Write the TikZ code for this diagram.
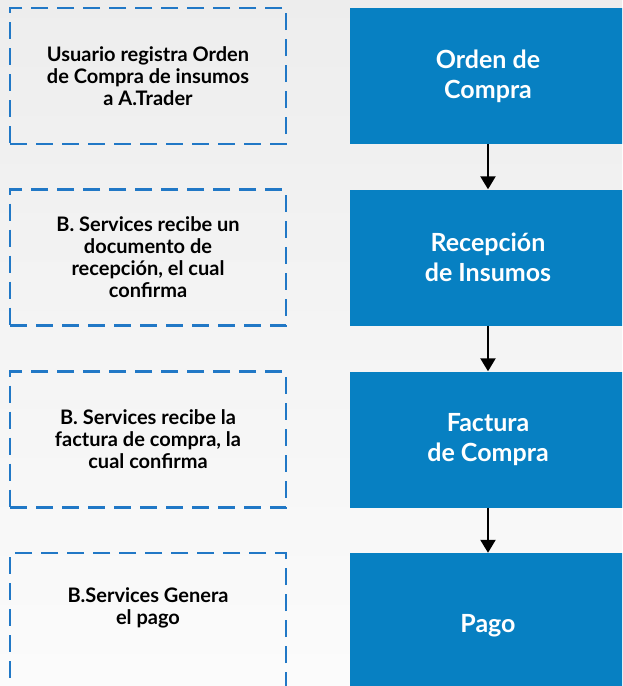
\documentclass[tikz,border=0pt]{standalone}
\usepackage{fontspec}
\setmainfont{Lato}
\usetikzlibrary{arrows.meta}

\definecolor{flowblue}{HTML}{0780C2}
\definecolor{dashblue}{HTML}{2178C6}

\tikzset{
  note/.style={draw=dashblue, line width=2.8pt, dash pattern=on 17pt off 9pt,
    minimum width=276pt, minimum height=136pt, align=center,
    font=\fontsize{20}{22}\selectfont\bfseries},
  stage/.style={fill=flowblue, minimum width=276pt, minimum height=136pt,
    align=center, text=white, font=\fontsize{25}{30}\selectfont\bfseries},
  flow/.style={-{Triangle[width=15pt,length=13pt]}, line width=2.2pt}
}

\begin{document}
\begin{tikzpicture}[x=1pt,y=-1pt]

\useasboundingbox (0,0) rectangle (622,686);
\clip (0,0) rectangle (622,686);
\shade[top color=gray!14, bottom color=gray!3] (0,0) rectangle (622,686);

\node[note] (reg) at (148,76) {Usuario registra Orden\\de Compra de insumos\\a A.Trader};
\node[note] (doc) at (148,257.5) {B. Services recibe un\\documento de\\recepción, el cual\\confirma};
\node[note] (fact) at (148,439.5) {B. Services recibe la\\factura de compra, la\\cual confirma};
\node[note, minimum height=146pt] (gen) at (148,626) {};
\node at (148,608) [font=\fontsize{20}{22}\selectfont\bfseries, align=center] (gentext) {B.Services Genera\\el pago};

\node[stage] (orden) at (488,76) {Orden de\\Compra};
\node[stage] (recep) at (488,257.5) {Recepción\\de Insumos};
\node[stage] (factura) at (488,439.5) {Factura\\de Compra};
\node[stage, minimum height=146pt] (pago) at (488,626) {Pago};

\draw[flow] (orden) -- (recep);
\draw[flow] (recep) -- (factura);
\draw[flow] (factura) -- (pago);

\end{tikzpicture}
\end{document}
